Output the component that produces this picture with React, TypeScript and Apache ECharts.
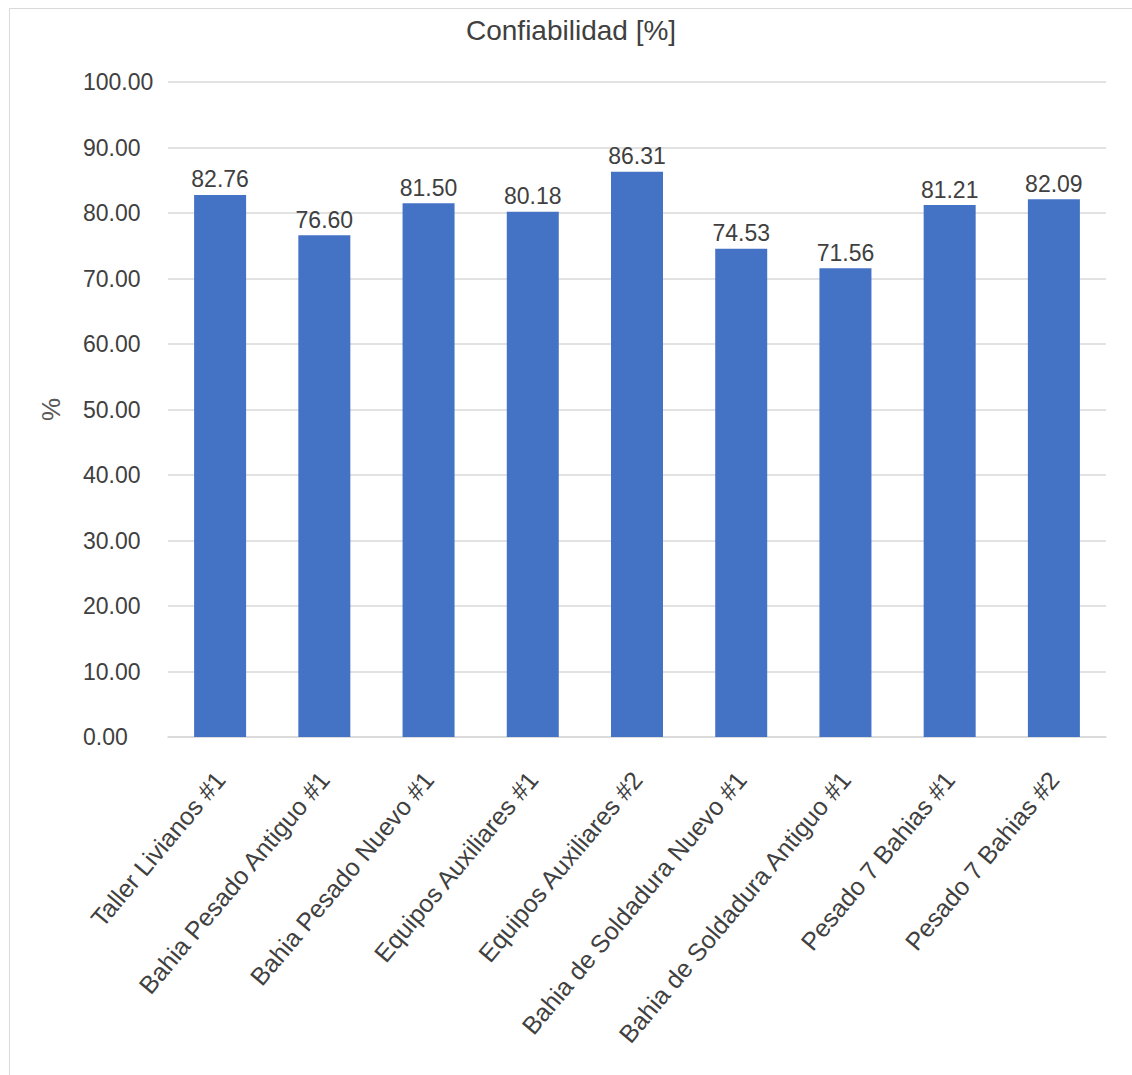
import React, { useEffect, useRef } from "react";
import * as echarts from "echarts";

// Reliability per workshop area
const categories: string[] = [
  "Taller Livianos #1",
  "Bahia Pesado Antiguo #1",
  "Bahia Pesado Nuevo #1",
  "Equipos Auxiliares #1",
  "Equipos Auxiliares #2",
  "Bahia de Soldadura Nuevo #1",
  "Bahia de Soldadura Antiguo #1",
  "Pesado 7 Bahias #1",
  "Pesado 7 Bahias #2",
];

const confiabilidad: number[] = [82.76, 76.6, 81.5, 80.18, 86.31, 74.53, 71.56, 81.21, 82.09];

const chartTitle = "Confiabilidad [%]";
const yAxisName = "%";

const FONT = '"Liberation Sans", Arial, sans-serif';

export default function App() {
  const ref = useRef<HTMLDivElement>(null);

  useEffect(() => {
    if (!ref.current) return;
    const chart = echarts.init(ref.current, undefined, { renderer: "svg" });
    chart.setOption({
      animation: false,
      backgroundColor: "#ffffff",
      title: {
        text: chartTitle,
        left: 461,
        top: 11,
        textStyle: {
          fontFamily: FONT,
          fontSize: 28,
          fontWeight: "normal",
          color: "#404040",
        },
      },
      graphic: [
        {
          type: "rect",
          shape: { x: 9.5, y: 8.5, width: 1200, height: 1200 },
          style: { fill: "none", stroke: "#d9d9d9", lineWidth: 1 },
          silent: true,
        },
      ],
      grid: {
        left: 168,
        right: 26,
        top: 82,
        bottom: 338,
      },
      xAxis: {
        type: "category",
        data: categories,
        axisLine: { show: true, lineStyle: { color: "#d9d9d9", width: 1.5 } },
        axisTick: { show: false },
        axisLabel: {
          interval: 0,
          rotate: 50,
          margin: 38,
          fontFamily: FONT,
          fontSize: 25,
          color: "#404040",
        },
      },
      yAxis: {
        type: "value",
        min: 0,
        max: 100,
        interval: 10,
        name: yAxisName,
        nameLocation: "middle",
        nameGap: 104,
        nameRotate: 90,
        nameTextStyle: {
          fontFamily: FONT,
          fontSize: 26,
          color: "#595959",
        },
        axisLine: { show: false },
        axisTick: { show: false },
        splitLine: { lineStyle: { color: "#d9d9d9", width: 1.5 } },
        axisLabel: {
          margin: 85,
          align: "left",
          fontFamily: FONT,
          fontSize: 23,
          color: "#404040",
          formatter: (v: number) => v.toFixed(2),
        },
      },
      series: [
        {
          type: "bar",
          data: confiabilidad,
          barWidth: 52,
          itemStyle: { color: "#4472c4" },
          label: {
            show: true,
            position: "top",
            distance: 4,
            fontFamily: FONT,
            fontSize: 23,
            color: "#404040",
            formatter: (p: any) => Number(p.value).toFixed(2),
          },
        },
      ],
    });
    return () => chart.dispose();
  }, []);

  return (
    <div
      ref={ref}
      style={{ position: "fixed", left: 0, top: 0, width: 1132, height: 1075 }}
    />
  );
}
